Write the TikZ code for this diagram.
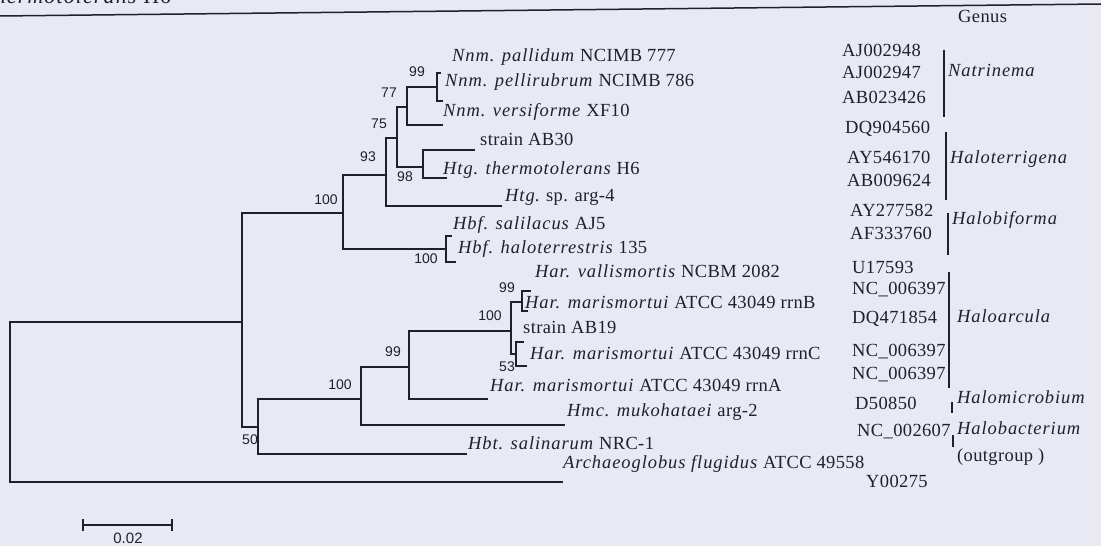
\documentclass[tikz,border=0pt]{standalone}
\usepackage{fontspec}
\setmainfont{Liberation Serif}[UprightFeatures={LetterSpace=2},ItalicFeatures={LetterSpace=5}]
\newfontfamily\bootsans{Liberation Sans}
\usetikzlibrary{calc}
\usetikzlibrary{positioning}

\definecolor{paper}{RGB}{233,233,243}
\definecolor{ink}{RGB}{32,32,42}

\begin{document}
\begin{tikzpicture}[x=1pt,y=-1pt,
    branch/.style={draw=ink, line width=1.3pt},
    taxon/.style={anchor=base west, inner sep=0pt, text=ink, font=\fontsize{18.5}{20}\selectfont},
    boot/.style={inner sep=0pt, text=ink, font=\bootsans\fontsize{14}{15}\selectfont}]
            \useasboundingbox (0,0) rectangle (1101,546);
            \clip (0,0) rectangle (1101,546);
            \fill[paper] (0,0) rectangle (1101,546);

            % Caption remnant and rule
            \node[taxon, anchor=base east, font=\fontsize{22}{24}\selectfont] (capt) at (171,3) {\textit{thermotolerans} H6};
            \draw[ink, line width=1.5pt] (0,16) -- (1101,4);

            % Root and first split
            \coordinate (root) at (10,402);
            \coordinate (n0) at (242,322);
            \coordinate (tArc) at (563,482);
            \draw[branch] (root) |- (n0);
            \draw[branch] (root) |- (tArc);

            \coordinate (n100u) at (343,213);
            \coordinate (n50) at (258,427);
            \draw[branch] (n0) |- (n100u);
            \draw[branch] (n0) |- (n50);

            % Upper clade
            \coordinate (n93) at (386,175);
            \coordinate (nHbf) at (446,249);
            \coordinate (tSal) at (452,236);
            \coordinate (tHter) at (456,262);
            \draw[branch] (n100u) |- (n93);
            \draw[branch] (n100u) |- (nHbf);
            \draw[branch] (nHbf) |- (tSal);
            \draw[branch] (nHbf) |- (tHter);

            \coordinate (n75) at (397,138);
            \coordinate (tArg) at (502,206);
            \draw[branch] (n93) |- (n75);
            \draw[branch] (n93) |- (tArg);

            \coordinate (n77) at (407,107);
            \coordinate (n98) at (423,167);
            \draw[branch] (n75) |- (n77);
            \draw[branch] (n75) |- (n98);

            \coordinate (n99a) at (437,87);
            \coordinate (tVer) at (443,125);
            \coordinate (tPal) at (441,73);
            \coordinate (tPel) at (443,101);
            \draw[branch] (n77) |- (n99a);
            \draw[branch] (n77) |- (tVer);
            \draw[branch] (n99a) |- (tPal);
            \draw[branch] (n99a) |- (tPel);

            \coordinate (tAB30) at (475,150);
            \coordinate (tTher) at (447,178);
            \draw[branch] (n98) |- (tAB30);
            \draw[branch] (n98) |- (tTher);

            % Lower clade
            \coordinate (n100l) at (361,399);
            \coordinate (tHbt) at (467,454);
            \draw[branch] (n50) |- (n100l);
            \draw[branch] (n50) |- (tHbt);

            \coordinate (n99l) at (409,367);
            \coordinate (tHmc) at (565,425);
            \draw[branch] (n100l) |- (n99l);
            \draw[branch] (n100l) |- (tHmc);

            \coordinate (n100h) at (511,331);
            \coordinate (tRrnA) at (488,399);
            \draw[branch] (n99l) |- (n100h);
            \draw[branch] (n99l) |- (tRrnA);

            \coordinate (n99h) at (522,302);
            \coordinate (n53) at (516,354);
            \draw[branch] (n100h) |- (n99h);
            \draw[branch] (n100h) |- (n53);

            \coordinate (tVal) at (531,291);
            \coordinate (tRrnB) at (528,311);
            \coordinate (tAB19) at (524,342);
            \coordinate (tRrnC) at (527,366);
            \draw[branch] (n99h) |- (tVal);
            \draw[branch] (n99h) |- (tRrnB);
            \draw[branch] (n53) |- (tAB19);
            \draw[branch] (n53) |- (tRrnC);

            % Bootstrap values
            \node[boot] (b99a) at (417,72) {99};
            \node[boot] (b77) at (389,93) {77};
            \node[boot] (b75) at (379,124) {75};
            \node[boot] (b93) at (368,157) {93};
            \node[boot] (b98) at (405,177) {98};
            \node[boot] (b100u) at (326,200) {100};
            \node[boot] (b100f) at (426,259) {100};
            \node[boot] (b99h) at (507,288) {99};
            \node[boot] (b100h) at (490,316) {100};
            \node[boot] (b53) at (507,367) {53};
            \node[boot] (b99l) at (393,352) {99};
            \node[boot] (b100l) at (340,385) {100};
            \node[boot] (b50) at (250,440) {50};

            % Taxa
            \node[taxon] (pal) at (452,61) {\textit{Nnm. pallidum} NCIMB 777};
            \node[taxon] (pel) at (445,86) {\textit{Nnm. pellirubrum} NCIMB 786};
            \node[taxon] (ver) at (443,116) {\textit{Nnm. versiforme} XF10};
            \node[taxon] (ab30) at (480,145) {strain AB30};
            \node[taxon] (ther) at (443,174) {\textit{Htg. thermotolerans} H6};
            \node[taxon] (arg) at (505,201) {\textit{Htg}. sp. arg-4};
            \node[taxon] (sal) at (453,229) {\textit{Hbf. salilacus} AJ5};
            \node[taxon] (hter) at (458,253) {\textit{Hbf. haloterrestris} 135};
            \node[taxon] (val) at (535,277) {\textit{Har. vallismortis} NCBM 2082};
            \node[taxon] (rrnB) at (525,308) {\textit{Har. marismortui} ATCC 43049 rrnB};
            \node[taxon] (ab19) at (523,333) {strain AB19};
            \node[taxon] (rrnC) at (530,359) {\textit{Har. marismortui} ATCC 43049 rrnC};
            \node[taxon] (rrnA) at (490,391) {\textit{Har. marismortui} ATCC 43049 rrnA};
            \node[taxon] (hmc) at (567,416) {\textit{Hmc. mukohataei} arg-2};
            \node[taxon] (hbt) at (468,449) {\textit{Hbt. salinarum} NRC-1};
            \node[taxon] (arc) at (563,468) {\textit{Archaeoglobus flugidus} ATCC 49558};

            % Accession numbers
            \node[taxon] (acc1) at (842,56) {AJ002948};
            \node[taxon] (acc2) at (842,78) {AJ002947};
            \node[taxon] (acc3) at (842,103) {AB023426};
            \node[taxon] (acc4) at (845,133) {DQ904560};
            \node[taxon] (acc5) at (847,163) {AY546170};
            \node[taxon] (acc6) at (847,186) {AB009624};
            \node[taxon] (acc7) at (850,216) {AY277582};
            \node[taxon] (acc8) at (850,239) {AF333760};
            \node[taxon] (acc9) at (852,273) {U17593};
            \node[taxon] (acc10) at (852,294) {NC\_006397};
            \node[taxon] (acc11) at (852,323) {DQ471854};
            \node[taxon] (acc12) at (852,356) {NC\_006397};
            \node[taxon] (acc13) at (852,379) {NC\_006397};
            \node[taxon] (acc14) at (855,409) {D50850};
            \node[taxon] (acc15) at (857,436) {NC\_002607};
            \node[taxon] (acc16) at (866,487) {Y00275};

            % Genus column
            \node[taxon] (genus) at (958,23) {Genus};
            \node[taxon] (gNat) at (948,76) {\textit{Natrinema}};
            \node[taxon] (gHtg) at (950,163) {\textit{Haloterrigena}};
            \node[taxon] (gHbf) at (952,224) {\textit{Halobiforma}};
            \node[taxon] (gHar) at (957,322) {\textit{Haloarcula}};
            \node[taxon] (gHmc) at (957,403) {\textit{Halomicrobium}};
            \node[taxon] (gHbt) at (957,434) {\textit{Halobacterium}};
            \node[taxon] (gOut) at (957,461) {(outgroup )};
            \draw[branch] (944,50) -- (944,117);
            \draw[branch] (946,132) -- (946,200);
            \draw[branch] (948,213) -- (948,255);
            \draw[branch] (949,272) -- (949,388);
            \draw[branch] (952,402) -- (952,413);
            \draw[branch] (953,435) -- (953,447);

            % Scale bar
            \coordinate (sL) at (83,525);
            \coordinate (sR) at (172,525);
            \draw[branch] (sL) -- (sR);
            \draw[branch] ($(sL)+(0,-6)$) -- ($(sL)+(0,6)$);
            \draw[branch] ($(sR)+(0,-6)$) -- ($(sR)+(0,6)$);
            \node[boot, font=\bootsans\fontsize{15}{16}\selectfont] (scale) at (128,538) {0.02};
        \end{tikzpicture}
\end{document}
